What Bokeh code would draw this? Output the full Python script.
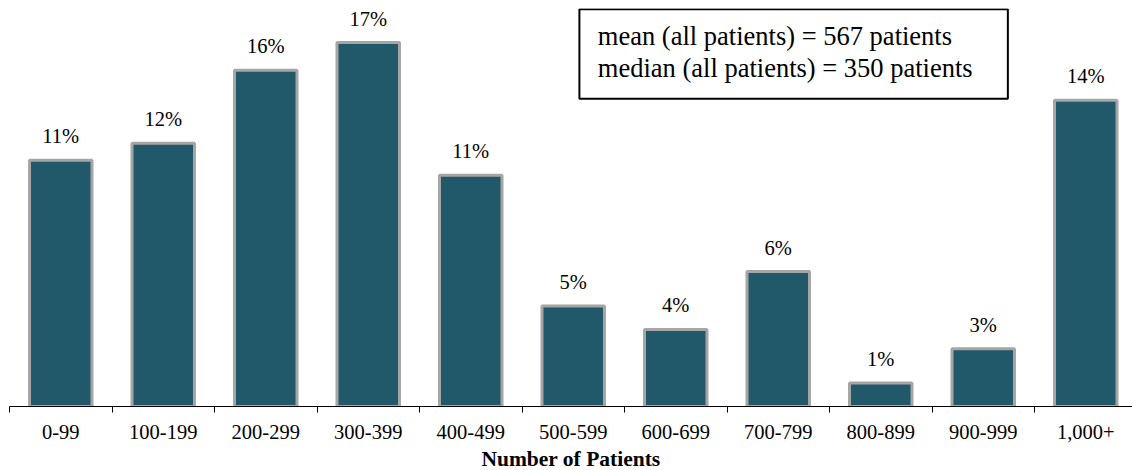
from bokeh.plotting import figure
from bokeh.models import FixedTicker, BoxAnnotation, Label, ColumnDataSource, Range1d
from bokeh.embed import file_html
from bokeh.resources import INLINE
from bokeh.core.properties import value

categories = ["0-99", "100-199", "200-299", "300-399", "400-499", "500-599",
              "600-699", "700-799", "800-899", "900-999", "1,000+"]
shares = [11.5, 12.3, 15.7, 17.0, 10.8, 4.7, 3.6, 6.3, 1.1, 2.7, 14.3]
share_labels = ["11%", "12%", "16%", "17%", "11%", "5%", "4%", "6%", "1%", "3%", "14%"]
stats_lines = ["mean (all patients) = 567 patients", "median (all patients) = 350 patients"]
x_title = "Number of Patients"

FONT = "Liberation Serif"
centers = [i + 0.5 for i in range(len(categories))]
src = ColumnDataSource(dict(x=centers, top=shares, lab=share_labels))

p = figure(frame_width=1123, frame_height=398, output_backend="svg", toolbar_location=None,
           x_range=Range1d(0, 10.956), y_range=Range1d(0, 18.59),
           min_border_left=9, min_border_right=0, min_border_top=8, min_border_bottom=0)
p.outline_line_color = None
p.grid.visible = False
p.yaxis.visible = False

p.vbar(x="x", top="top", bottom=0, width=0.61, source=src,
       fill_color="#22596A", line_color="#A6A6A6", line_width=3)
p.text(x="x", y="top", text="lab", source=src, text_align="center",
       text_baseline="alphabetic", y_offset=-24, text_font=value(FONT),
       text_font_size="20.5px", text_color="black")

ax = p.xaxis[0]
ax.ticker = FixedTicker(ticks=centers, minor_ticks=list(range(len(categories) + 1)))
ax.major_label_overrides = {c: lab for c, lab in zip(centers, categories)}
ax.major_tick_out = 0
ax.major_tick_in = 0
ax.minor_tick_out = 6
ax.minor_tick_in = 0
ax.minor_tick_line_color = "black"
ax.axis_line_color = "black"
ax.axis_line_width = 1
ax.major_label_standoff = 12
ax.major_label_text_font = FONT
ax.major_label_text_font_size = "20.5px"
ax.major_label_text_color = "black"
ax.axis_label = x_title
ax.axis_label_text_font = FONT
ax.axis_label_text_font_size = "21.5px"
ax.axis_label_text_font_style = "bold"
ax.axis_label_text_color = "black"
ax.axis_label_standoff = 5

box = BoxAnnotation(left=5.56, right=9.74, bottom=14.37, top=18.55,
                    fill_color=None, line_color="black", line_alpha=1.0, line_width=2)
p.add_layout(box)
for i, line in enumerate(stats_lines):
    p.add_layout(Label(x=5.74, y=17.3 - i * 1.5, text=line, text_font=FONT,
                       text_font_size="26.5px", text_color="black", text_baseline="middle"))

open("out.html", "w").write(file_html(p, INLINE))
